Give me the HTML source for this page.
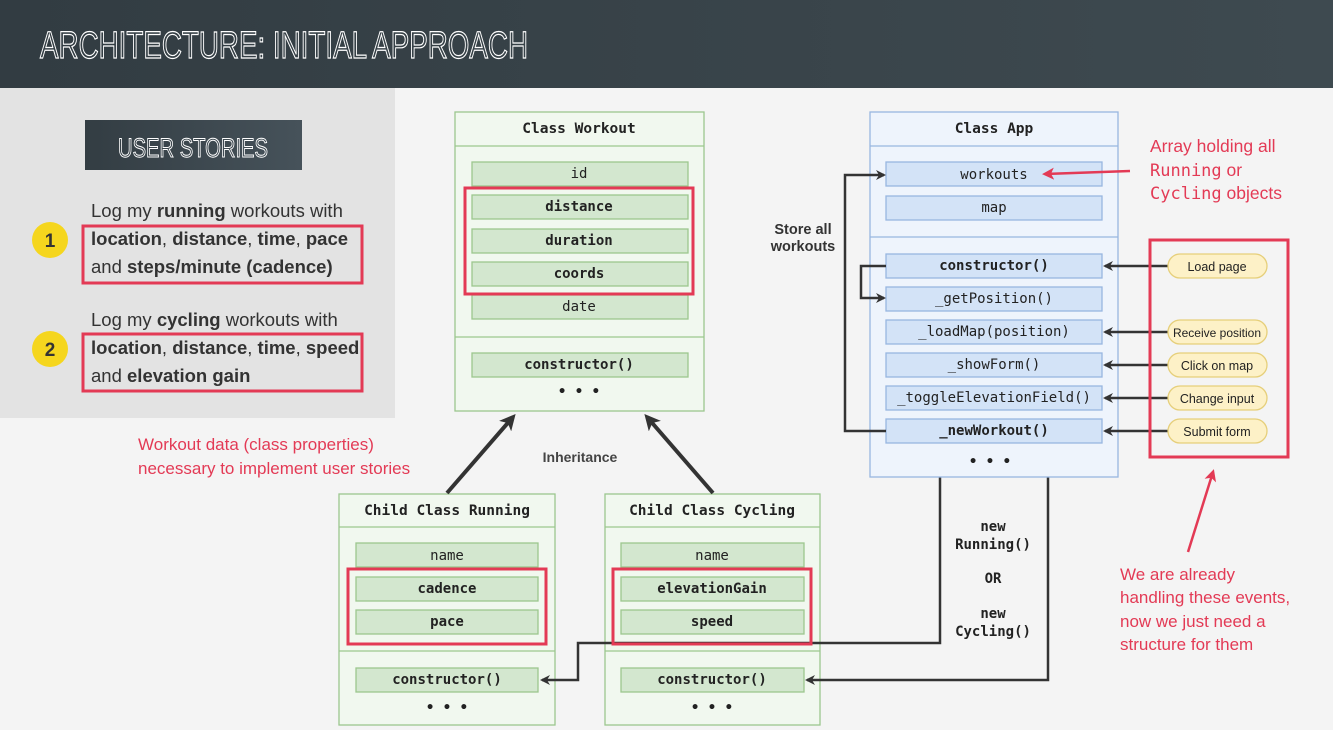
<!DOCTYPE html>
<html><head><meta charset="utf-8">
<style>
body{margin:0;width:1333px;height:730px;overflow:hidden;background:#f4f4f4;}
svg{display:block}
.m{font-family:"DejaVu Sans Mono","Liberation Mono",monospace;font-size:14px;fill:#222;text-anchor:middle;dominant-baseline:central}
.h{font-size:14.5px}
.b{font-weight:bold}
.s{font-family:"Liberation Sans",sans-serif}
</style></head><body>
<svg width="1333" height="730" xmlns="http://www.w3.org/2000/svg">
<defs>
<linearGradient id="hd" x1="0" x2="1"><stop offset="0" stop-color="#323c42"/><stop offset="1" stop-color="#3e4a50"/></linearGradient>
<linearGradient id="us" x1="0" x2="1"><stop offset="0" stop-color="#333d43"/><stop offset="1" stop-color="#46525a"/></linearGradient>
<marker id="ah" markerWidth="10" markerHeight="10" refX="8" refY="5" orient="auto" markerUnits="userSpaceOnUse"><path d="M0,0 L10,5 L0,10 L3,5z" fill="#333"/></marker>
<marker id="ar" markerWidth="12" markerHeight="12" refX="9" refY="6" orient="auto" markerUnits="userSpaceOnUse"><path d="M0,0 L12,6 L0,12 L3,6z" fill="#e33a55"/></marker>
<marker id="ab" markerWidth="16" markerHeight="16" refX="12" refY="8" orient="auto" markerUnits="userSpaceOnUse"><path d="M0,0 L16,8 L0,16 L4,8z" fill="#333"/></marker>
</defs>
<rect x="0" y="0" width="1333" height="88" fill="url(#hd)"/>
<text x="40" y="58" font-family="'Liberation Sans Narrow','Liberation Sans',sans-serif" font-size="38" fill="none" stroke="#fff" stroke-width="1.2" textLength="488" lengthAdjust="spacingAndGlyphs">ARCHITECTURE: INITIAL APPROACH</text>
<rect x="0" y="88" width="395" height="330" fill="#e3e3e3"/>
<rect x="85" y="120" width="217" height="50" fill="url(#us)"/>
<text x="193" y="157" text-anchor="middle" font-family="'Liberation Sans Narrow','Liberation Sans',sans-serif" font-size="27" fill="none" stroke="#fff" stroke-width="1" textLength="150" lengthAdjust="spacingAndGlyphs">USER STORIES</text>
<circle cx="50" cy="240" r="18" fill="#f5d61e"/><text x="50" y="247" text-anchor="middle" class="s b" font-size="19" fill="#333">1</text>
<circle cx="50" cy="349" r="18" fill="#f5d61e"/><text x="50" y="356" text-anchor="middle" class="s b" font-size="19" fill="#333">2</text>
<g class="s" font-size="18.5" fill="#333">
<text x="91" y="217">Log my <tspan font-weight="bold">running</tspan> workouts with</text>
<text x="91" y="245" font-weight="bold">location<tspan font-weight="normal">, </tspan>distance<tspan font-weight="normal">, </tspan>time<tspan font-weight="normal">, </tspan>pace</text>
<text x="91" y="273">and <tspan font-weight="bold">steps/minute (cadence)</tspan></text>
<text x="91" y="326">Log my <tspan font-weight="bold">cycling</tspan> workouts with</text>
<text x="91" y="354" font-weight="bold">location<tspan font-weight="normal">, </tspan>distance<tspan font-weight="normal">, </tspan>time<tspan font-weight="normal">, </tspan>speed</text>
<text x="91" y="382">and <tspan font-weight="bold">elevation gain</tspan></text>
</g>
<rect x="83" y="226" width="279" height="57" fill="none" stroke="#e33a55" stroke-width="3"/>
<rect x="83" y="334" width="279" height="57" fill="none" stroke="#e33a55" stroke-width="3"/>

<g stroke="#9cc78e" stroke-width="1.3">
<rect x="455" y="112" width="249" height="299" fill="#f1f8ef"/>
<line x1="455" y1="146" x2="704" y2="146"/><line x1="455" y1="337" x2="704" y2="337"/>
<g fill="#d3e7cf">
<rect x="472" y="162" width="216" height="24"/><rect x="472" y="195" width="216" height="24"/><rect x="472" y="229" width="216" height="24"/><rect x="472" y="262" width="216" height="24"/><rect x="472" y="295" width="216" height="24"/><rect x="472" y="353" width="216" height="24"/>
</g>
<rect x="339" y="494" width="216" height="231" fill="#f1f8ef"/>
<line x1="339" y1="527" x2="555" y2="527"/><line x1="339" y1="651" x2="555" y2="651"/>
<g fill="#d3e7cf"><rect x="356" y="543" width="182" height="24"/><rect x="356" y="577" width="182" height="24"/><rect x="356" y="610" width="182" height="24"/><rect x="356" y="668" width="182" height="24"/></g>
<rect x="605" y="494" width="215" height="231" fill="#f1f8ef"/>
<line x1="605" y1="527" x2="820" y2="527"/><line x1="605" y1="651" x2="820" y2="651"/>
<g fill="#d3e7cf"><rect x="621" y="543" width="183" height="24"/><rect x="621" y="577" width="183" height="24"/><rect x="621" y="610" width="183" height="24"/><rect x="621" y="668" width="183" height="24"/></g>
</g>
<text class="m b h" x="579" y="129">Class Workout</text>
<text class="m" x="579" y="174">id</text><text class="m b" x="579" y="207">distance</text><text class="m b" x="579" y="241">duration</text><text class="m b" x="579" y="274">coords</text><text class="m" x="579" y="307">date</text><text class="m b" x="579" y="365">constructor()</text><text class="m b" x="579" y="392">• • •</text>
<rect x="465" y="188" width="228" height="106" fill="none" stroke="#e33a55" stroke-width="3"/>
<text class="m b h" x="447" y="511">Child Class Running</text>
<text class="m" x="447" y="556">name</text><text class="m b" x="447" y="589">cadence</text><text class="m b" x="447" y="622">pace</text><text class="m b" x="447" y="680">constructor()</text><text class="m b" x="447" y="708">• • •</text>
<text class="m b h" x="712" y="511">Child Class Cycling</text>
<text class="m" x="712" y="556">name</text><text class="m b" x="712" y="589">elevationGain</text><text class="m b" x="712" y="622">speed</text><text class="m b" x="712" y="680">constructor()</text><text class="m b" x="712" y="708">• • •</text>

<g stroke="#333" stroke-width="2.5" fill="none">
<polyline points="940,443 940,643 578,643 578,680 542,680" marker-end="url(#ah)"/>
<polyline points="1048,443 1048,680 807,680" marker-end="url(#ah)"/>
<line x1="447" y1="493" x2="513" y2="417" stroke-width="4" marker-end="url(#ab)"/>
<line x1="713" y1="493" x2="647" y2="417" stroke-width="4" marker-end="url(#ab)"/>
</g>
<rect x="348" y="569" width="198" height="75" fill="none" stroke="#e33a55" stroke-width="3"/>
<rect x="613" y="569" width="198" height="75" fill="none" stroke="#e33a55" stroke-width="3"/>
<text x="580" y="462" text-anchor="middle" class="s b" font-size="14" fill="#444">Inheritance</text>
<text x="138" y="450" class="s" font-size="17" fill="#e33a55">Workout data (class properties)</text>
<text x="138" y="474" class="s" font-size="17" fill="#e33a55">necessary to implement user stories</text>

<g stroke="#98b6e0" stroke-width="1.3">
<rect x="870" y="112" width="248" height="365" fill="#eef4fc"/>
<line x1="870" y1="146" x2="1118" y2="146"/><line x1="870" y1="237" x2="1118" y2="237"/>
<g fill="#d3e3f7">
<rect x="886" y="162" width="216" height="24"/><rect x="886" y="196" width="216" height="24"/><rect x="886" y="254" width="216" height="24"/><rect x="886" y="287" width="216" height="24"/><rect x="886" y="320" width="216" height="24"/><rect x="886" y="353" width="216" height="24"/><rect x="886" y="386" width="216" height="24"/><rect x="886" y="419" width="216" height="24"/>
</g></g>
<text class="m b h" x="994" y="129">Class App</text>
<text class="m" x="994" y="175">workouts</text><text class="m" x="994" y="208">map</text>
<text class="m b" x="994" y="266">constructor()</text><text class="m" x="994" y="299">_getPosition()</text><text class="m" x="994" y="332">_loadMap(position)</text><text class="m" x="994" y="365">_showForm()</text><text class="m" x="994" y="398">_toggleElevationField()</text><text class="m b" x="994" y="431">_newWorkout()</text><text class="m b" x="990" y="462">• • •</text>
<g stroke="#333" stroke-width="2.5" fill="none">
<polyline points="886,431 845,431 845,175 884,175" marker-end="url(#ah)"/>
<polyline points="886,266 861,266 861,298 884,298" marker-end="url(#ah)"/>
<line x1="1168" y1="266" x2="1105" y2="266" marker-end="url(#ah)"/>
<line x1="1168" y1="332" x2="1105" y2="332" marker-end="url(#ah)"/>
<line x1="1168" y1="365" x2="1105" y2="365" marker-end="url(#ah)"/>
<line x1="1168" y1="398" x2="1105" y2="398" marker-end="url(#ah)"/>
<line x1="1168" y1="431" x2="1105" y2="431" marker-end="url(#ah)"/>
</g>
<g fill="#fdf1c7" stroke="#e6cf7a" stroke-width="1.3">
<rect x="1168" y="254" width="99" height="24" rx="12"/><rect x="1168" y="320" width="99" height="24" rx="12"/><rect x="1168" y="353" width="99" height="24" rx="12"/><rect x="1168" y="386" width="99" height="24" rx="12"/><rect x="1168" y="419" width="99" height="24" rx="12"/>
</g>
<g class="s" font-size="12.5" fill="#222" text-anchor="middle">
<text x="1217" y="271">Load page</text><text x="1217" y="337" font-size="12">Receive position</text><text x="1217" y="370">Click on map</text><text x="1217" y="403">Change input</text><text x="1217" y="436">Submit form</text>
</g>
<rect x="1150" y="240" width="138" height="217" fill="none" stroke="#e33a55" stroke-width="3"/>
<line x1="1130" y1="171" x2="1045" y2="174" stroke="#e33a55" stroke-width="2.5" marker-end="url(#ar)"/>
<line x1="1188" y1="552" x2="1213" y2="472" stroke="#e33a55" stroke-width="2.5" marker-end="url(#ar)"/>
<g font-size="17.5" fill="#e33a55">
<text x="1150" y="152" class="s">Array holding all</text>
<text x="1150" y="176"><tspan font-family="'DejaVu Sans Mono','Liberation Mono',monospace" font-size="17">Running</tspan><tspan class="s"> or</tspan></text>
<text x="1150" y="199"><tspan font-family="'DejaVu Sans Mono','Liberation Mono',monospace" font-size="17">Cycling</tspan><tspan class="s"> objects</tspan></text>
</g>
<g class="s" font-size="17" fill="#e33a55">
<text x="1120" y="580">We are already</text><text x="1120" y="603">handling these events,</text><text x="1120" y="627">now we just need a</text><text x="1120" y="650">structure for them</text>
</g>
<g class="s b" font-size="14.5" fill="#333" text-anchor="middle"><text x="803" y="234">Store all</text><text x="803" y="251">workouts</text></g>
<text class="m b" x="993" y="527">new</text><text class="m b" x="993" y="545">Running()</text><text class="m b" x="993" y="579">OR</text><text class="m b" x="993" y="614">new</text><text class="m b" x="993" y="632">Cycling()</text>
</svg>
</body></html>
